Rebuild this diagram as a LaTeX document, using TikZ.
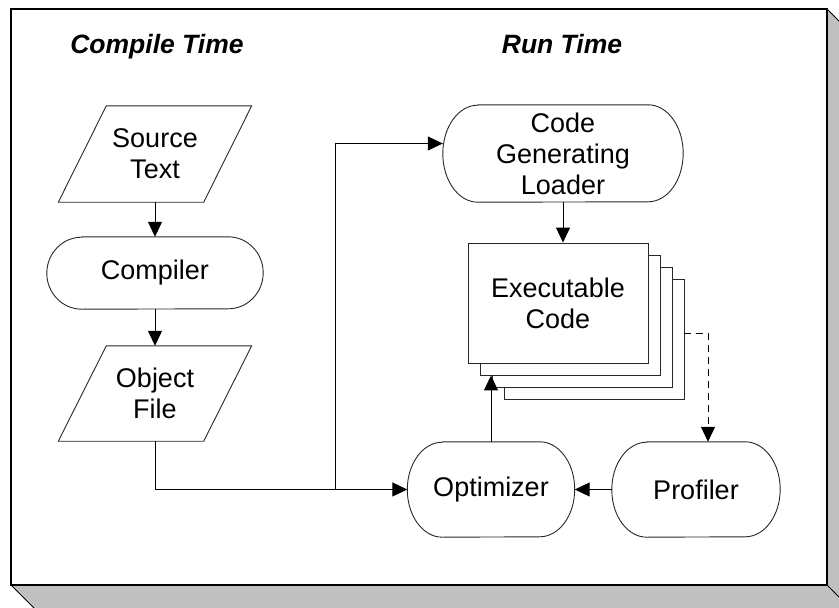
\documentclass[tikz,border=0pt]{standalone}
\usepackage{fontspec}
\setmainfont{Liberation Sans}
\usetikzlibrary{arrows.meta}
\definecolor{shadowgray}{RGB}{192,192,192}
\definecolor{outline}{RGB}{40,40,40}
\tikzset{
  shapeline/.style={draw=outline, line width=0.9pt},
  lbl/.style={inner sep=0pt, align=center, font=\fontsize{27}{31}\selectfont},
  conn/.style={line width=1pt, -{Triangle[length=15pt,width=14pt]}},
  dashconn/.style={conn, dash pattern=on 7pt off 5pt},
  pagebox/.style={draw=outline, line width=0.9pt, fill=white, minimum width=180pt, minimum height=120pt, inner sep=0pt},
  heading/.style={font=\fontsize{26.5}{31}\selectfont\bfseries\itshape, anchor=base, inner sep=0pt},
}
% stadium outline round a named node: #1 node, #2 half height
\newcommand\stadiumoutline[2]{%
  \draw[shapeline] ([xshift=35pt]#1.north west) -- ([xshift=-35pt]#1.north east)
    arc[start angle=90,end angle=-90,x radius=35pt,y radius=#2]
    -- ([xshift=35pt]#1.south west)
    arc[start angle=270,end angle=90,x radius=35pt,y radius=#2] -- cycle;}
% parallelogram outline round a named node
\newcommand\slantoutline[1]{%
  \draw[shapeline] ([xshift=24pt]#1.north west) -- ([xshift=24pt]#1.north east)
    -- ([xshift=-24pt]#1.south east) -- ([xshift=-24pt]#1.south west) -- cycle;}
\begin{document}
\begin{tikzpicture}[x=1pt,y=1pt]
\useasboundingbox (0,0) rectangle (839,-608);
\clip (0,0) rectangle (839,-608);
% frame with shadow
\fill[shadowgray] (827,-9) -- (850,-32) -- (850,-608) -- (34,-608) -- (11,-585) -- (827,-585) -- cycle;
\draw[line width=0.8pt] (827,-9) -- (850,-32);
\draw[line width=0.8pt] (827,-585) -- (850,-608);
\draw[line width=0.8pt] (11,-585) -- (34,-608);
\draw[line width=1.2pt, fill=white] (11,-9) rectangle (827,-585);

% headings
\node[heading] (hcomp) at (157,-53) {Compile Time};
\node[heading] (hrun) at (562,-53) {Run Time};

% compile-time column
\node[lbl, minimum width=145pt, minimum height=96pt] (src) at (155,-154) {Source\\Text};
\slantoutline{src}
\node[lbl, minimum width=216pt, minimum height=72pt] (comp) at (155,-273) {Compiler};
\stadiumoutline{comp}{36pt}
\node[lbl, minimum width=145pt, minimum height=95pt] (obj) at (155,-393.5) {Object\\File};
\slantoutline{obj}

% run-time column
\node[lbl, minimum width=240pt, minimum height=97pt] (loader) at (563,-153.5) {Code\\Generating\\Loader};
\stadiumoutline{loader}{48.5pt}
\node[pagebox] (p4) at (594,-339) {};
\node[pagebox] (p3) at (582,-327) {};
\node[pagebox] (p2) at (570,-315) {};
\node[pagebox, lbl] (exec) at (558,-303) {Executable\\Code};
\node[lbl, minimum width=167pt, minimum height=95pt] (opt) at (491,-489.5) {Optimizer};
\stadiumoutline{opt}{47.5pt}
\node[lbl, minimum width=168pt, minimum height=95pt] (prof) at (696,-489.5) {Profiler};
\stadiumoutline{prof}{47.5pt}

% connectors
\coordinate (j) at (335,-489.5);
\draw[conn] (src.south) -- (comp.north);
\draw[conn] (comp.south) -- (obj.north);
\draw[conn] (obj.south) |- (opt.west);
\draw[conn] (j) |- ([yshift=10pt]loader.west);
\draw[conn] (loader.south) -- (loader.south |- exec.north);
\draw[conn] (opt.north) -- (opt.north |- p2.south);
\draw[dashconn] ([yshift=6pt]p4.east) -| ([xshift=12pt]prof.north);
\draw[conn] (prof.west) -- (opt.east);
\end{tikzpicture}
\end{document}
